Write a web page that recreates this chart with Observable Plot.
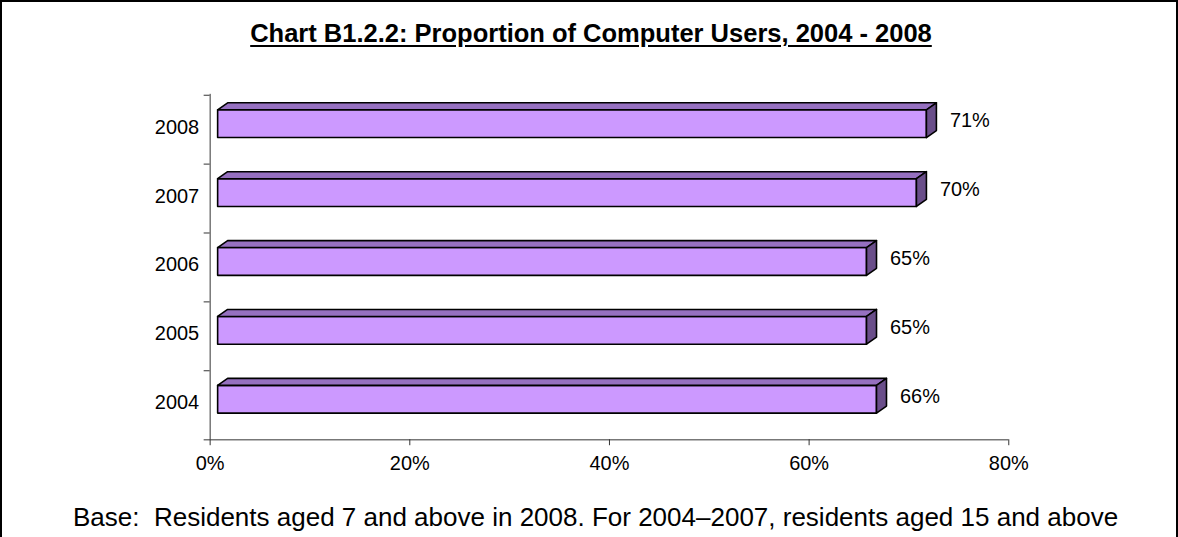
<!DOCTYPE html>
<html>
<head>
<meta charset="utf-8">
<script src="https://cdn.jsdelivr.net/npm/d3@7"></script>
<script src="https://cdn.jsdelivr.net/npm/@observablehq/plot@0.6"></script>
<style>
  body { margin: 0; background: #fff; }
  #frame {
    position: relative; width: 1178px; height: 537px; box-sizing: border-box;
    border: 2px solid #000; border-bottom: none; overflow: hidden;
    font-family: "Liberation Sans", Arial, sans-serif; color: #000; background: #fff;
  }
  #title {
    position: absolute; left: 0px; width: 1178px; top: 16px; text-align: center;
    font-weight: bold; font-size: 25.5px; line-height: 30px; text-decoration: underline;
    text-underline-offset: 3px;
  }
  #chart { position: absolute; left: -2px; top: -2px; }
  #note {
    position: absolute; left: 71px; top: 500px; font-size: 26px; line-height: 30px; white-space: pre;
  }
</style>
</head>
<body>
<div id="frame">
  <div id="chart"></div>
  <div id="title">Chart B1.2.2: Proportion of Computer Users, 2004 - 2008</div>
  <div id="note">Base:  Residents aged 7 and above in 2008. For 2004–2007, residents aged 15 and above</div>
</div>
<script>
// ---- data ----
const years = ["2008", "2007", "2006", "2005", "2004"];
const shares = [71, 70, 65, 65, 66];
const xTicks = [0, 20, 40, 60, 80];

const data = years.map((year, i) => ({ year, value: shares[i] }));

// draw the Excel-style 3D top and side faces around each bar's front face
function threeD(index, scales, values, dimensions, context, next) {
  const g = next(index, scales, values, dimensions, context);
  const DX = 10, DY = -7;
  const ns = "http://www.w3.org/2000/svg";
  const rects = Array.from(g.querySelectorAll("rect"));
  for (const r of rects) {
    const x = +r.getAttribute("x"), y = +r.getAttribute("y");
    const w = +r.getAttribute("width"), h = +r.getAttribute("height");
    const top = document.createElementNS(ns, "path");
    top.setAttribute("d", `M${x},${y}L${x + DX},${y + DY}L${x + w + DX},${y + DY}L${x + w},${y}Z`);
    top.setAttribute("fill", "#9670C0");
    const side = document.createElementNS(ns, "path");
    side.setAttribute("d", `M${x + w},${y}L${x + w + DX},${y + DY}L${x + w + DX},${y + h + DY}L${x + w},${y + h}Z`);
    side.setAttribute("fill", "#6A4E8A");
    g.appendChild(top);
    g.appendChild(side);
  }
  g.setAttribute("stroke-linejoin", "round");
  return g;
}

const half = (537 - 94 - 97) / years.length / 2;

const chart = Plot.plot({
  width: 1178,
  height: 537,
  marginLeft: 210,
  marginRight: 168,
  marginTop: 94,
  marginBottom: 97,
  style: { fontFamily: "Liberation Sans, Arial, sans-serif", fontSize: "20px", color: "#000", background: "transparent", overflow: "visible" },
  x: { domain: [0, 80] },
  y: { domain: years, padding: 0 },
  marks: [
    // vertical axis line
    Plot.ruleX([0], { stroke: "#333", strokeWidth: 1 }),
    // category separator ticks on the y axis (upper boundaries)
    Plot.ruleY(years, { y: d => d, x1: -0.6, x2: 0, dy: -half, stroke: "#333", strokeWidth: 1 }),
    // x axis baseline (also bottom boundary tick)
    Plot.ruleY([years[years.length - 1]], { y: d => d, x1: -0.6, x2: 80, dy: half, stroke: "#333", strokeWidth: 1 }),
    Plot.axisX({ ticks: xTicks, tickFormat: d => d + "%", tickSize: 6, tickPadding: 10, label: null, stroke: "#333", fontSize: 20 }),
    Plot.axisY({ tickSize: 0, tickPadding: 11, label: null, dy: -2.5, fontSize: 20 }),
    Plot.barX(data, {
      x: "value", y: "year", insetTop: 15, insetBottom: half * 2 - 43, dx: 8,
      fill: "#CC99FF", stroke: "#000", strokeWidth: 1.6, render: threeD
    }),
    Plot.text(data, { x: "value", y: "year", text: d => d.value + "%", dx: 31, dy: -9, textAnchor: "start", fontSize: 20, fill: "#000" })
  ]
});

document.getElementById("chart").appendChild(chart);
</script>
</body>
</html>
